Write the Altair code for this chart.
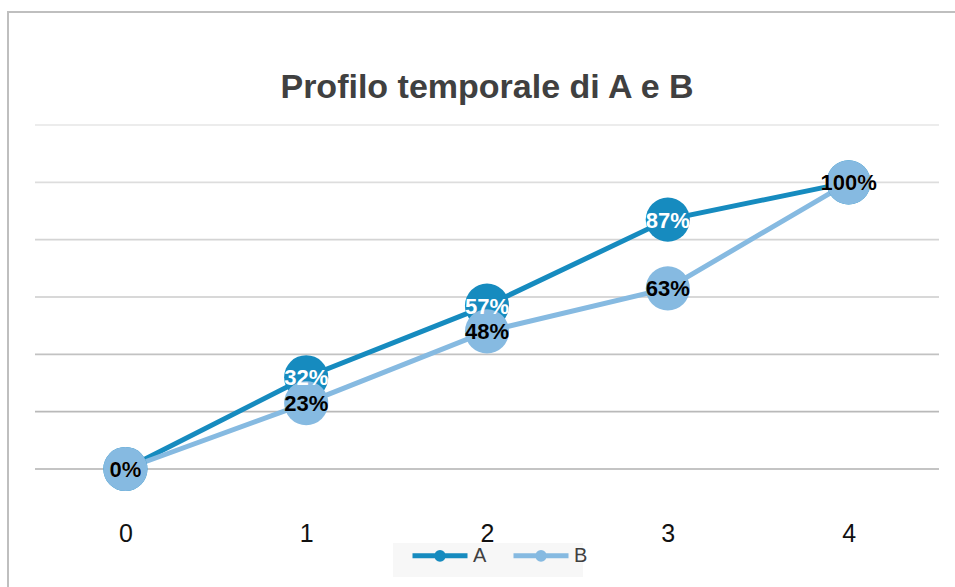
import altair as alt
import pandas as pd

# Time steps and cumulative share reached by each series
steps = [0, 1, 2, 3, 4]
series_a = [0.00, 0.32, 0.57, 0.87, 1.00]
series_b = [0.00, 0.23, 0.48, 0.63, 1.00]
series_names = ["A", "B"]
series_colors = ["#168bbf", "#86bae1"]

# Horizontal reference levels of the value axis
grid_levels = [0.0, 0.2, 0.4, 0.6, 0.8, 1.0, 1.2]

W, H = 904, 344
LEFT, TOP = 35, 125

rows = []
for s, v in zip(steps, series_a):
    rows.append({"step": s, "series": "A", "value": v})
for s, v in zip(steps, series_b):
    rows.append({"step": s, "series": "B", "value": v})
df = pd.DataFrame(rows)
grid_df = pd.DataFrame({"level": grid_levels})
one = pd.DataFrame({"k": [0]})

x_enc = alt.X(
    "step:O",
    scale=alt.Scale(paddingOuter=0.5),
    axis=alt.Axis(
        title=None, labelAngle=0, grid=False, domain=False, ticks=False, tickSize=0,
        labelFontSize=25, labelFont="Liberation Sans", labelColor="#111111",
        labelBaseline="middle", labelPadding=64,
    ),
)
y_scale = alt.Scale(domain=[0, 1.2], nice=False, zero=True)
y_enc = alt.Y("value:Q", scale=y_scale, axis=None)

# Outer chart frame
frame = alt.Chart(one).mark_rect(fillOpacity=0, stroke="#bfbfbf", strokeWidth=2).encode(
    x=alt.value(8 - LEFT), x2=alt.value(1000), y=alt.value(12 - TOP), y2=alt.value(700)
)

# Legend background panel
legend_box = alt.Chart(one).mark_rect(fill="#f7f7f7").encode(
    x=alt.value(393 - LEFT), x2=alt.value(583 - LEFT),
    y=alt.value(543 - TOP), y2=alt.value(577 - TOP),
)

# Gridlines, shading a little darker towards the baseline
grid = alt.Chart(grid_df).transform_calculate(
    shade="'rgb(' + round(176 + datum.level * 45) + ',' + round(176 + datum.level * 45) + ',' + round(176 + datum.level * 45) + ')'"
).mark_rule(strokeWidth=1.6).encode(
    y=alt.Y("level:Q", scale=y_scale, axis=None),
    color=alt.Color("shade:N", scale=None),
)

legend_symbol = "M-1,0L1,0M0.12,0A0.12,0.12,0,1,1,-0.12,0A0.12,0.12,0,1,1,0.12,0Z"

lines = alt.Chart(df).mark_line(strokeWidth=5).encode(
    x=x_enc,
    y=y_enc,
    color=alt.Color(
        "series:N",
        scale=alt.Scale(domain=series_names, range=series_colors),
        legend=alt.Legend(
            title=None, orient="none", direction="horizontal",
            legendX=410 - LEFT, legendY=553 - TOP - 27.5,
            symbolType=legend_symbol, symbolSize=3025, symbolStrokeWidth=5,
            labelFont="Liberation Sans", labelFontSize=20, labelColor="#404040",
            labelOffset=3, columnPadding=16, padding=0,
        ),
    ),
    detail="series:N",
)

def dots(name, color):
    return alt.Chart(df).transform_filter(alt.datum.series == name).mark_circle(
        size=1950, opacity=1, color=color
    ).encode(x=x_enc, y=y_enc)

def labels(name, color):
    return alt.Chart(df).transform_filter(alt.datum.series == name).mark_text(
        font="Liberation Sans", fontWeight="bold", fontSize=22, color=color,
        align="center", baseline="middle", dy=1,
    ).encode(x=x_enc, y=y_enc, text=alt.Text("value:Q", format=".0%"))

chart = alt.layer(
    frame,
    legend_box,
    grid,
    lines,
    dots("A", series_colors[0]),
    dots("B", series_colors[1]),
    labels("A", "white"),
    labels("B", "black"),
).properties(
    width=W,
    height=H,
    padding={"left": LEFT, "top": TOP, "right": 955 - LEFT - W, "bottom": 587 - TOP - H},
    autosize=alt.AutoSizeParams(type="none"),
    background="white",
    title=alt.TitleParams(
        "Profilo temporale di A e B",
        font="Liberation Sans", fontSize=34, fontWeight="bold", color="#404040",
        anchor="middle", frame="group", baseline="alphabetic", offset=0, dy=121,
    ),
).configure_view(stroke=None)

chart.save("out.html", embed_options={"renderer": "svg", "actions": False})
